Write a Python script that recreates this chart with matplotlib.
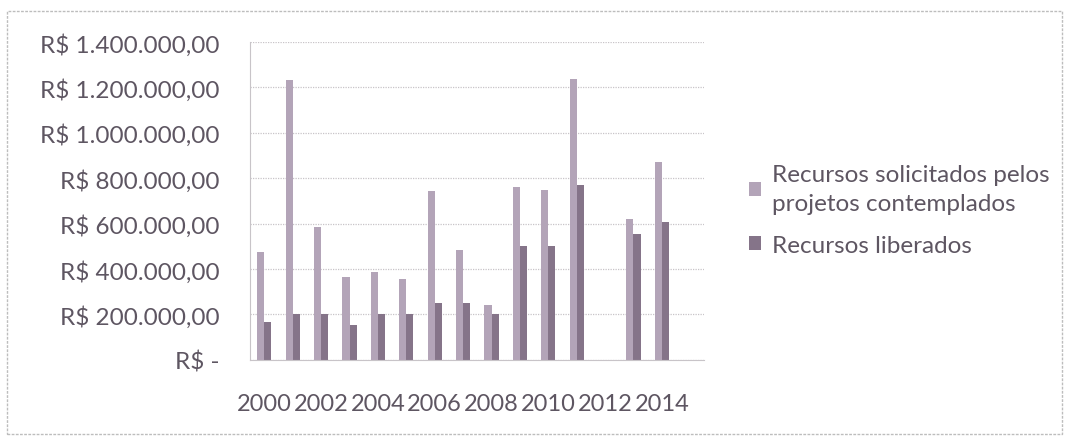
import numpy as np
import matplotlib
matplotlib.use("Agg")
import matplotlib.pyplot as plt
from matplotlib.patches import Rectangle

plt.rcParams['font.family'] = ['Lato', 'DejaVu Sans']

# Data (R$)
years = list(range(2000, 2016))
solicitados = [475000, 1233000, 585000, 366000, 389000, 355000, 743000, 484000,
               243000, 761000, 750000, 1238000, np.nan, 622000, 870000, np.nan]
liberados = [168000, 200000, 200000, 154000, 200000, 200000, 250000, 250000,
             200000, 500000, 500000, 772000, np.nan, 556000, 607000, np.nan]
y_ticks = [0, 200000, 400000, 600000, 800000, 1000000, 1200000, 1400000]


def brl(v):
    if v == 0:
        return "R$ -"
    s = f"{v:,.2f}"
    s = s.replace(",", "X").replace(".", ",").replace("X", ".")
    return "R$ " + s


text_col = '#5e5662'
c1 = '#b3a4b8'
c2 = '#857489'

fig = plt.figure(figsize=(10.69, 4.39), dpi=100)
ax = fig.add_axes([0.234, 0.178, 0.425, 0.724])

x = np.arange(len(years))
w = 0.25
ax.bar(x - w / 2, solicitados, w, color=c1,
       label='Recursos solicitados pelos\nprojetos contemplados')
ax.bar(x + w / 2, liberados, w, color=c2, label='Recursos liberados')

ax.set_xlim(-0.5, len(years) - 0.5)
ax.set_ylim(0, 1400000)
ax.set_yticks(y_ticks)
ax.set_yticklabels([brl(v) for v in y_ticks])
ax.set_xticks(x[::2])
ax.set_xticklabels([str(y) for y in years[::2]])

ax.grid(axis='y', color='#c8c4c8', linestyle=(0, (1, 1)), linewidth=0.9)
ax.set_axisbelow(True)
for s in ['top', 'right']:
    ax.spines[s].set_visible(False)
ax.spines['left'].set_color('#c8c4c8')
ax.spines['left'].set_linestyle((0, (1, 1)))
ax.spines['bottom'].set_color('#c8c4c8')
ax.spines['bottom'].set_linestyle((0, (1, 1)))
ax.tick_params(axis='y', length=0, pad=22, labelsize=17.5, labelcolor=text_col)
ax.tick_params(axis='x', length=0, pad=24, labelsize=17, labelcolor=text_col)

leg = ax.legend(loc='upper left', bbox_to_anchor=(1.097, 0.615), frameon=False,
                fontsize=17.5, borderpad=0, borderaxespad=0,
                handlelength=0.53, handleheight=0.53,
                handletextpad=0.45, labelspacing=0.85, labelcolor=text_col)
for t in leg.get_texts():
    t.set_linespacing(1.45)

fig.patches.append(Rectangle((0.007, 0.008), 0.986, 0.965, transform=fig.transFigure,
                             fill=False, edgecolor='#bdbdbd', linewidth=1.0,
                             linestyle=(0, (2, 1))))

fig.savefig('out.png', dpi=100)
